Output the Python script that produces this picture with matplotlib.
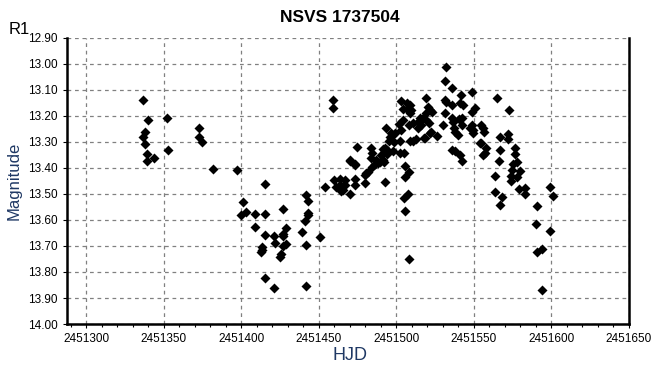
import numpy as np
import matplotlib.pyplot as plt
from matplotlib.ticker import MultipleLocator, FormatStrFormatter

plt.rcParams['font.family'] = ['Liberation Sans', 'DejaVu Sans']

# HJD - 2451000, R1 magnitude
hjd = [
    337.0, 352.2, 340.0, 338.2, 337.0, 373.1, 373.1, 374.8, 338.2, 352.9,
    339.5, 343.5, 339.5, 382.0, 397.0, 401.3, 403.4, 400.0, 408.6, 408.6,
    415.5, 415.5, 427.1, 415.5, 421.2, 426.7, 426.7, 428.7, 439.5, 441.7,
    443.3, 443.3, 443.3, 441.4, 450.5, 442.0, 413.7, 413.1, 412.6, 421.6,
    428.7, 426.9, 425.8, 425.2, 415.5, 421.2, 442.0, 454.3, 459.8, 463.5,
    466.7, 461.4, 463.5, 465.6, 467.2, 464.4, 473.2, 473.6, 470.4, 470.1,
    473.2,
    532.2, 531.6, 535.6, 548.5, 541.6, 519.4, 459.4, 459.4, 503.3, 506.9,
    508.6, 504.3, 506.9, 509.7, 508.6, 520.5, 522.0, 523.2, 519.0, 531.2,
    532.2, 536.2, 531.6, 541.3, 543.0, 550.6, 548.5, 535.6, 536.7, 542.4,
    540.3, 530.2, 542.4, 548.5, 549.5, 547.4, 549.5, 504.3, 501.8, 502.7,
    508.2, 510.8, 514.3, 515.1, 517.2, 519.4, 521.1, 514.3, 515.8, 522.6,
    521.5, 518.3, 526.5, 537.1, 537.7, 539.9, 536.0, 537.7, 540.9, 542.6,
    553.8, 493.4, 499.0, 496.8, 495.7, 495.3, 498.6, 502.2, 508.6, 510.8,
    512.6, 517.7, 502.2, 493.0, 494.2, 491.4, 490.4, 494.2, 498.0, 487.2,
    486.0, 484.5, 489.3, 488.3, 491.1, 483.8, 484.4, 483.8, 474.9, 470.4,
    473.2, 480.7, 479.5, 481.7, 479.5, 493.0, 504.8, 505.4, 508.2, 505.4,
    507.5, 504.8,
    491.9, 505.4, 508.1, 554.3, 556.0, 556.4, 554.5, 557.7, 557.1, 556.0,
    572.7, 567.0, 571.8, 571.8, 567.0, 576.6, 576.6, 566.1, 575.5, 577.7,
    574.3, 577.7, 574.0, 574.0, 563.6, 563.6, 568.0, 567.0, 579.0,
    565.2, 579.5, 582.9, 582.9, 598.8, 600.7, 590.4, 589.8, 598.8, 590.4,
    593.7, 593.7,
]
mag = [
    13.140, 13.207, 13.214, 13.260, 13.280, 13.245, 13.280, 13.299, 13.307, 13.330,
    13.347, 13.360, 13.372, 13.403, 13.407, 13.530, 13.568, 13.580, 13.576, 13.628,
    13.460, 13.576, 13.557, 13.657, 13.660, 13.653, 13.662, 13.631, 13.645, 13.504,
    13.527, 13.572, 13.580, 13.604, 13.664, 13.695, 13.705, 13.715, 13.723, 13.687,
    13.691, 13.700, 13.731, 13.743, 13.822, 13.860, 13.853, 13.474, 13.446, 13.443,
    13.446, 13.472, 13.465, 13.485, 13.465, 13.487, 13.441, 13.464, 13.499, 13.373,
    13.387,
    13.013, 13.064, 13.091, 13.107, 13.121, 13.130, 13.140, 13.168, 13.141, 13.149,
    13.158, 13.174, 13.174, 13.177, 13.187, 13.164, 13.177, 13.183, 13.190, 13.138,
    13.147, 13.158, 13.190, 13.151, 13.158, 13.171, 13.183, 13.209, 13.222, 13.209,
    13.213, 13.235, 13.235, 13.235, 13.254, 13.247, 13.264, 13.215, 13.232, 13.254,
    13.235, 13.226, 13.222, 13.209, 13.209, 13.215, 13.228, 13.247, 13.235, 13.260,
    13.267, 13.286, 13.277, 13.247, 13.260, 13.273, 13.331, 13.335, 13.350, 13.372,
    13.303, 13.245, 13.264, 13.267, 13.280, 13.295, 13.299, 13.296, 13.296, 13.296,
    13.288, 13.286, 13.341, 13.322, 13.331, 13.328, 13.350, 13.347, 13.334, 13.369,
    13.385, 13.395, 13.376, 13.382, 13.369, 13.324, 13.341, 13.360, 13.320, 13.369,
    13.385, 13.420, 13.427, 13.414, 13.456, 13.453, 13.341, 13.391, 13.414, 13.433,
    13.501, 13.517,
    13.376, 13.564, 13.750, 13.235, 13.247, 13.260, 13.303, 13.322, 13.343, 13.350,
    13.177, 13.280, 13.270, 13.290, 13.331, 13.324, 13.346, 13.373, 13.385, 13.376,
    13.408, 13.433, 13.431, 13.449, 13.431, 13.491, 13.510, 13.542, 13.482,
    13.130, 13.410, 13.478, 13.499, 13.474, 13.507, 13.545, 13.614, 13.641, 13.722,
    13.712, 13.868,
]

x = 2451000 + np.array(hjd)
y = np.array(mag)

fig = plt.figure(figsize=(6.63, 3.81), dpi=100)
ax = fig.add_axes([0.1006, 0.1496, 0.8481, 0.7507])

ax.scatter(x, y, marker='D', s=26, color='black', linewidths=0, zorder=3)

ax.set_xlim(2451287.5, 2451650)
ax.set_ylim(14.00, 12.90)
ax.xaxis.set_major_locator(MultipleLocator(50))
ax.xaxis.set_minor_locator(MultipleLocator(10))
ax.yaxis.set_major_locator(MultipleLocator(0.1))
ax.yaxis.set_major_formatter(FormatStrFormatter('%.2f'))
ax.xaxis.set_major_formatter(FormatStrFormatter('%d'))

ax.grid(True, which='major', color='#808080', linestyle=(0, (3, 3)), linewidth=0.9)
ax.set_axisbelow(True)

ax.spines['top'].set_visible(False)
for s in ['left', 'bottom', 'right']:
    ax.spines[s].set_linewidth(1.8)
    ax.spines[s].set_color('black')

ax.tick_params(axis='both', which='major', labelsize=8.5, length=3, width=0.8, direction='out')
ax.tick_params(axis='x', which='minor', length=2, width=0.8, direction='out')

fig.text(340 / 663, 1 - 18 / 381, 'NSVS 1737504', ha='center', va='center',
         fontsize=12.5, fontweight='bold')
fig.text(9 / 663, 1 - 29 / 381, 'R1', ha='left', va='center', fontsize=12)
fig.text(350 / 663, 1 - 355 / 381, 'HJD', ha='center', va='center',
         fontsize=13, color='#1F3864')
fig.text(14 / 663, 1 - 181 / 381, 'Magnitude', ha='center', va='center',
         rotation=90, fontsize=12, color='#1F3864')

fig.savefig('out.png', dpi=100)
